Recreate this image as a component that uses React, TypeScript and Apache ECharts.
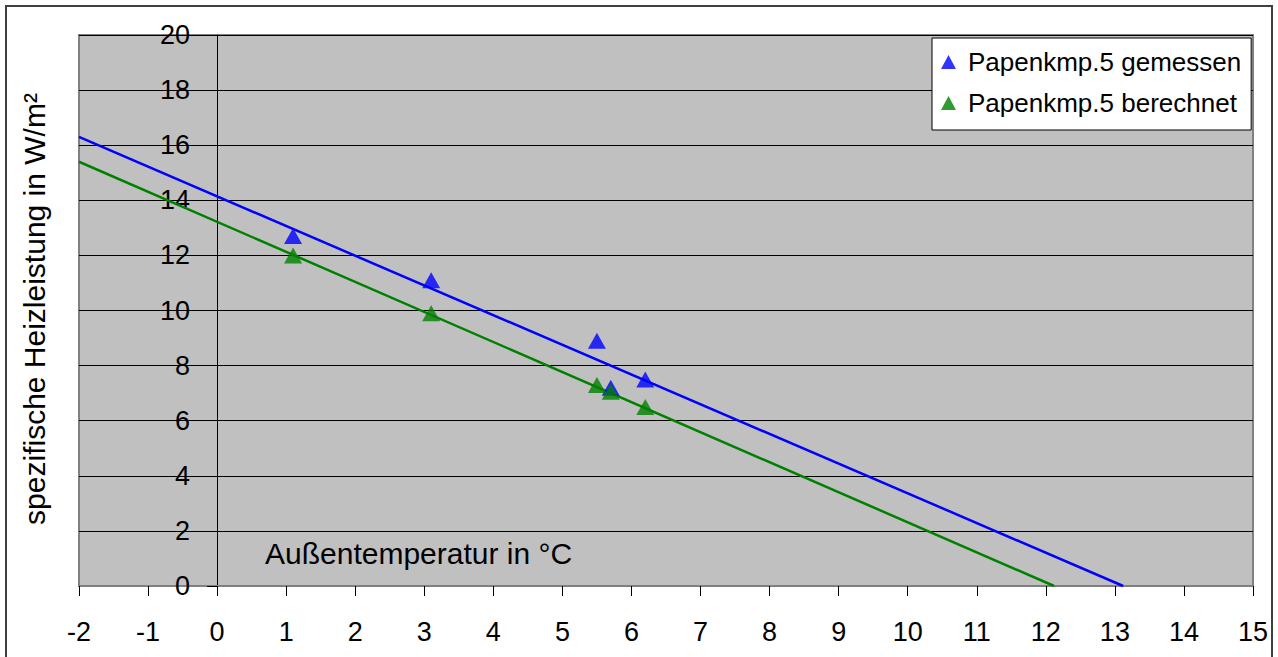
import React, { useEffect, useRef } from "react";
import * as echarts from "echarts";

const xMeasured = [1.1, 3.1, 5.5, 5.7, 6.2];
const yMeasured = [12.7, 11.1, 8.9, 7.2, 7.5];
const xCalculated = [1.1, 3.1, 5.5, 5.7, 6.2];
const yCalculated = [12.0, 9.9, 7.3, 7.05, 6.5];
// linear trend lines (start and x-intercept)
const trendMeasuredX = [-2, 13.12];
const trendMeasuredY = [16.3, 0];
const trendCalculatedX = [-2, 12.12];
const trendCalculatedY = [15.4, 0];
const seriesNames = ["Papenkmp.5 gemessen", "Papenkmp.5 berechnet"];
const xAxisName = "Außentemperatur in °C";
const yAxisName = "spezifische Heizleistung in W/m²";

const FONT = "'Liberation Sans', Arial, sans-serif";

const X_MIN = -2;
const X_MAX = 15;
const GRID_LEFT = 79;
const GRID_RIGHT = 25;
const WIDTH = 1278;

export default function App() {
  const ref = useRef<HTMLDivElement>(null);
  useEffect(() => {
    if (!ref.current) return;
    const chart = echarts.init(ref.current, null, { renderer: "svg" });
    const blue = "#0000ff";
    const green = "#008000";
    const plotW = WIDTH - GRID_LEFT - GRID_RIGHT;
    const yAxisOffset = -((0 - X_MIN) / (X_MAX - X_MIN)) * plotW;
    chart.setOption({
      animation: false,
      backgroundColor: "#ffffff",
      textStyle: { fontFamily: FONT },
      grid: {
        left: GRID_LEFT,
        right: GRID_RIGHT,
        top: 35,
        bottom: 71,
        show: true,
        backgroundColor: "#c0c0c0",
        borderColor: "#808080",
        borderWidth: 2,
      },
      legend: {
        orient: "vertical",
        left: 932,
        top: 38,
        data: seriesNames.map((n) => ({ name: n, icon: "triangle" })),
        itemWidth: 15,
        itemHeight: 14,
        itemGap: 15,
        padding: [11, 10, 14, 9],
        backgroundColor: "#ffffff",
        borderColor: "#000000",
        borderWidth: 1,
        textStyle: {
          fontFamily: FONT,
          fontSize: 26,
          color: "#000",
          padding: [0, 0, 0, 7],
        },
      },
      xAxis: {
        type: "value",
        min: X_MIN,
        max: X_MAX,
        interval: 1,
        axisLine: { show: true, onZero: false, lineStyle: { color: "#808080", width: 2 } },
        axisTick: { show: true, length: 10, lineStyle: { color: "#000", width: 1 } },
        axisLabel: { fontSize: 27, color: "#000", margin: 32, fontFamily: FONT },
        splitLine: { show: false },
      },
      yAxis: {
        type: "value",
        min: 0,
        max: 20,
        interval: 2,
        offset: yAxisOffset,
        axisLine: { show: true, onZero: false, lineStyle: { color: "#000", width: 1 } },
        axisTick: { show: true, length: 10, lineStyle: { color: "#000", width: 1 } },
        axisLabel: { fontSize: 27, color: "#000", margin: 27, fontFamily: FONT },
        splitLine: { show: true, lineStyle: { color: "#000", width: 1 } },
      },
      graphic: [
        {
          type: "rect",
          shape: { x: 6, y: 6, width: 1266, height: 670 },
          style: { fill: "none", stroke: "#404040", lineWidth: 2 },
          z: 100,
        },
        {
          type: "text",
          x: 34,
          y: 309,
          rotation: Math.PI / 2,
          style: {
            text: yAxisName,
            fontSize: 30,
            fontFamily: FONT,
            fill: "#000",
            align: "center",
            verticalAlign: "middle",
          },
          z: 100,
        },
        {
          type: "text",
          x: 265,
          y: 553,
          style: {
            text: xAxisName,
            fontSize: 30,
            fontFamily: FONT,
            fill: "#000",
            align: "left",
            verticalAlign: "middle",
          },
          z: 100,
        },
      ],
      series: [
        {
          type: "line",
          data: trendMeasuredX.map((x, i) => [x, trendMeasuredY[i]]),
          showSymbol: false,
          symbol: "none",
          lineStyle: { color: blue, width: 2.5 },
          clip: true,
          silent: true,
          z: 2,
        },
        {
          type: "line",
          data: trendCalculatedX.map((x, i) => [x, trendCalculatedY[i]]),
          showSymbol: false,
          symbol: "none",
          lineStyle: { color: green, width: 2.5 },
          clip: true,
          silent: true,
          z: 2,
        },
        {
          name: seriesNames[0],
          type: "scatter",
          symbol: "triangle",
          symbolSize: [18, 16],
          itemStyle: { color: blue },
          data: xMeasured.map((x, i) => [x, yMeasured[i]]),
          z: 3,
        },
        {
          name: seriesNames[1],
          type: "scatter",
          symbol: "triangle",
          symbolSize: [18, 16],
          itemStyle: { color: green },
          data: xCalculated.map((x, i) => [x, yCalculated[i]]),
          z: 4,
        },
      ],
    });
    return () => chart.dispose();
  }, []);
  return (
    <div
      ref={ref}
      style={{ position: "fixed", left: 0, top: 0, width: WIDTH, height: 657 }}
    />
  );
}
